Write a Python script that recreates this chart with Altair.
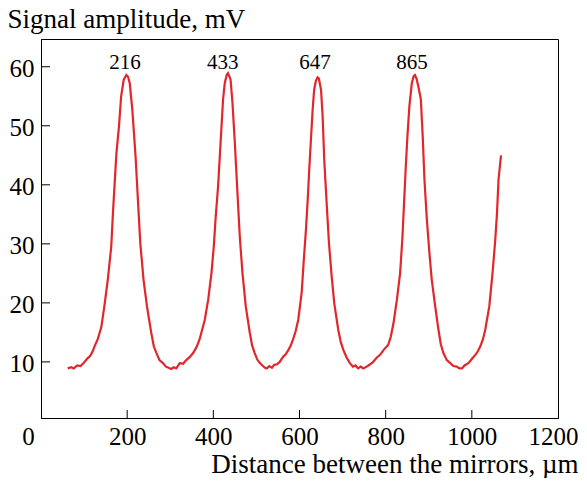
import altair as alt
import pandas as pd

# Curve: distance (um) and signal amplitude (mV)
dist = [62, 70, 76, 84, 92, 100, 108, 114, 120, 124, 132, 140, 147, 155, 163, 167, 171, 175, 181, 186,
        192, 198, 202, 206, 212, 219.5, 225, 230.5, 238, 246, 256, 262, 268, 275, 283, 290, 296, 302, 308, 314,
        322, 330, 337, 345, 353, 361, 368, 380, 388, 395.6, 401, 405.6, 411, 415, 419, 422.6, 426.5, 431, 434, 437,
        440, 444.4, 450, 456, 461.4, 467.7, 475.3, 484.7, 490, 496, 502, 508, 514, 520, 524, 530, 536, 541, 548, 554,
        562, 568, 574, 580, 585, 591, 597, 605, 610, 615, 619, 622.6, 626.5, 630.5, 634, 638, 642, 645, 650, 653.7,
        657.4, 663, 668.4, 674.7, 680.7, 690, 696, 702, 709, 717, 724, 730, 736, 742, 748, 756, 764, 771, 779, 787,
        795, 806, 812, 818, 826, 833.5, 839, 843, 846.7, 850.5, 855, 860.7, 865, 868, 872, 876, 881.6, 886, 890, 895.6,
        901.6, 907, 915, 922.6, 928, 934, 942, 950, 957, 965, 971, 977, 983, 992, 1000, 1008, 1014, 1019.5, 1026, 1031,
        1040.5, 1048, 1054.4, 1058.4, 1062, 1067.7]
amp = [8.9, 9.1, 8.9, 9.4, 9.3, 9.9, 10.6, 11.0, 11.8, 12.6, 13.9, 15.9, 19.4, 23.9, 29.5, 35.2, 40.3, 45.3, 49.9, 55.0,
       57.8, 58.6, 58.3, 57.2, 52.7, 44.8, 37.4, 30.1, 23.9, 19.4, 14.9, 12.6, 11.5, 10.3, 9.8, 9.2, 9.0, 8.8, 9.1, 8.9,
       9.8, 9.7, 10.3, 10.8, 11.5, 12.5, 13.8, 17.1, 20.5, 25.0, 29.5, 34.7, 39.7, 44.8, 49.9, 54.5, 57.2, 58.6, 58.9, 58.4,
       57.8, 53.9, 47.0, 38.6, 31.2, 25.0, 19.4, 14.9, 12.8, 11.5, 10.4, 9.8, 9.4, 9.0, 8.9, 9.3, 9.0, 9.5, 9.6, 10.0,
       10.9, 11.3, 12.0, 12.8, 13.8, 15.2, 17.1, 21.7, 27.3, 32.4, 37.4, 42.6, 47.6, 52.7, 56.1, 57.6, 58.2, 58.0, 56.1, 51.6,
       44.3, 36.9, 30.1, 24.5, 19.9, 15.4, 13.3, 12.0, 10.8, 9.8, 9.2, 9.4, 8.9, 9.2, 8.9, 9.2, 9.6, 10.0, 10.7, 11.2,
       12.0, 12.9, 14.3, 16.5, 20.5, 25.0, 31.2, 37.4, 43.1, 48.2, 53.3, 57.2, 58.4, 58.6, 57.9, 56.6, 54.5, 48.2, 40.9, 34.1,
       28.4, 23.9, 19.4, 15.4, 13.0, 11.5, 10.3, 9.8, 9.3, 9.2, 8.9, 8.9, 9.4, 9.8, 10.5, 11.2, 11.8, 12.6, 13.9, 15.4,
       19.4, 25.0, 30.7, 35.2, 40.9, 45.0]

peak_text = ["216", "433", "647", "865"]
peak_x = [195, 422, 636, 861]
peak_y = [59.6, 59.6, 59.6, 59.6]

x_ticks = [0, 200, 400, 600, 800, 1000, 1200]
x_inner_ticks = [200, 400, 600, 800, 1000]
y_ticks = [10, 20, 30, 40, 50, 60]

FONT = "Liberation Serif"
RED = "#e3262b"
X_TITLE = "Distance between the mirrors, µm"
Y_TITLE = "Signal amplitude, mV"

xs = alt.Scale(domain=[0, 1200], nice=False, zero=False)
ys = alt.Scale(domain=[0.5, 64.7], nice=False, zero=False)

x_axis = alt.Axis(
    values=x_ticks, format="d", ticks=False, tickSize=0, grid=False,
    labelFont=FONT, labelFontSize=25, labelColor="black", labelPadding=6,
    labelFlush=False, labelOverlap=False,
    labelOffset={"condition": [{"test": "datum.value === 0", "value": -13},
                               {"test": "datum.value === 1200", "value": -5}], "value": 0},
    domainColor="black", domainWidth=1,
    title=X_TITLE, titleFont=FONT, titleFontSize=27,
    titleFontWeight="normal", titleColor="black", titleAlign="right",
    titleBaseline="alphabetic", titleX=537, titleY=54)

y_axis = alt.Axis(
    values=y_ticks, format="d", ticks=False, tickSize=0, grid=False,
    labelFont=FONT, labelFontSize=25, labelColor="black", labelPadding=7,
    labelBaseline="alphabetic", labelOffset=10, labelOverlap=False, labelFlush=False,
    domainColor="black", domainWidth=1,
    title=Y_TITLE, titleFont=FONT, titleFontSize=27,
    titleFontWeight="normal", titleColor="black", titleAngle=0, titleAlign="left",
    titleBaseline="alphabetic", titleX=-34, titleY=-12)

curve = pd.DataFrame({"d": dist, "a": amp})

line = alt.Chart(curve).mark_line(color=RED, strokeWidth=2.2, clip=True).encode(
    x=alt.X("d:Q", scale=xs, axis=x_axis, title=X_TITLE),
    y=alt.Y("a:Q", scale=ys, axis=y_axis, title=Y_TITLE),
)

ytk = alt.Chart(pd.DataFrame({"v": y_ticks})).mark_rule(color="black", strokeWidth=1).encode(
    y=alt.Y("v:Q", scale=ys, axis=y_axis, title=Y_TITLE), x=alt.value(0), x2=alt.value(9))

xtk = alt.Chart(pd.DataFrame({"v": x_inner_ticks})).mark_rule(color="black", strokeWidth=1).encode(
    x=alt.X("v:Q", scale=xs, axis=x_axis, title=X_TITLE), y=alt.value(379), y2=alt.value(371))

labels = alt.Chart(pd.DataFrame({"t": peak_text, "x": peak_x, "y": peak_y})).mark_text(
    font=FONT, fontSize=21, color="black", align="center", baseline="alphabetic").encode(
    x=alt.X("x:Q", scale=xs, axis=x_axis, title=X_TITLE),
    y=alt.Y("y:Q", scale=ys, axis=y_axis, title=Y_TITLE), text="t:N")

chart = alt.layer(line, ytk, xtk, labels).properties(
    width=517, height=379,
    padding={"left": 33, "top": 31, "right": 20, "bottom": 60},
    autosize=alt.AutoSizeParams(type="none"),
    background="white",
).configure_view(stroke="black", strokeWidth=1)

chart.save("out.html", embed_options={"renderer": "svg", "actions": False})
